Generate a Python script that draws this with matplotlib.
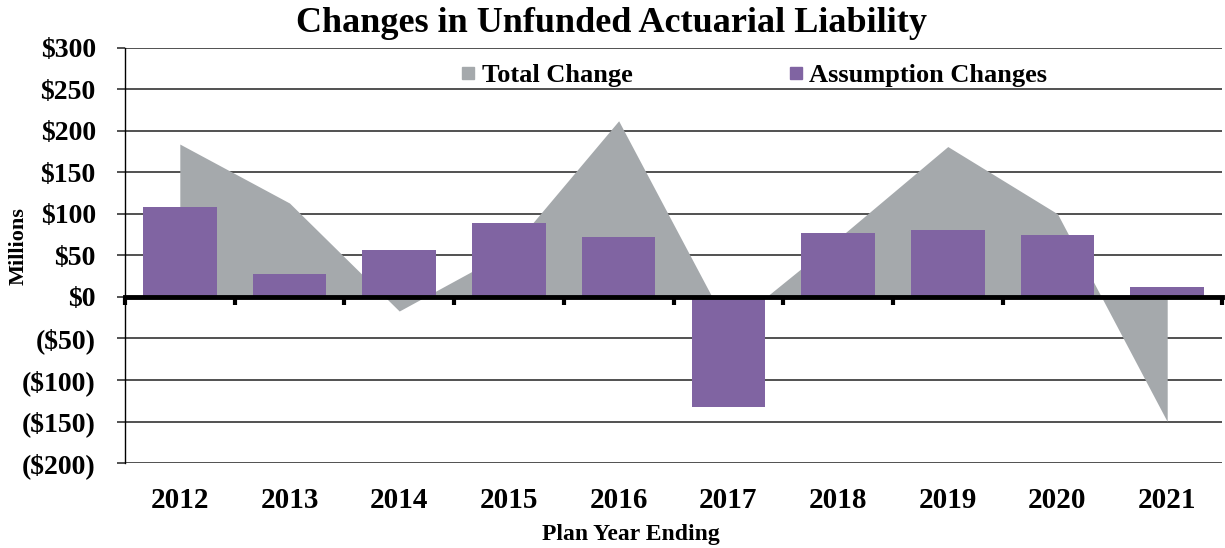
import numpy as np
import matplotlib
matplotlib.use('Agg')
import matplotlib.pyplot as plt
from matplotlib.lines import Line2D
from matplotlib.ticker import FuncFormatter, FixedLocator

# data (millions)
years = ['2012', '2013', '2014', '2015', '2016', '2017', '2018', '2019', '2020', '2021']
total_change = [184, 113, -17, 55, 212, -37, 70, 181, 100, -150]
assumption_changes = [108, 27, 57, 89, 72, -133, 77, 80, 74, 12]

gray = '#a5a9ac'
purple = '#8064a2'

plt.rcParams['font.family'] = ['Liberation Serif', 'DejaVu Serif']
plt.rcParams['font.weight'] = 'bold'


def money(v, pos):
    if v < 0:
        return '(${:.0f})'.format(-v)
    return '${:.0f}'.format(v)


fig = plt.figure(figsize=(12.25, 5.48), dpi=100)
ax = fig.add_axes([0.102, 0.155, 0.8956, 0.758])

x = np.arange(len(years))
ax.fill_between(x, total_change, 0, color=gray, lw=0, zorder=2)
ax.bar(x, assumption_changes, width=0.67, color=purple, zorder=3)

ax.set_xlim(-0.5, len(years) - 0.5)
ax.set_ylim(-200, 300)
ax.set_yticks(np.arange(-200, 301, 50))
ax.yaxis.set_major_formatter(FuncFormatter(money))
ax.grid(axis='y', color='#333333', lw=1.2)
ax.set_axisbelow(True)
ax.tick_params(axis='y', length=6, width=1.2, color='#333333', labelsize=20, pad=15)

for s in ['top', 'right']:
    ax.spines[s].set_visible(False)
ax.spines['left'].set_linewidth(1.0)
ax.spines['bottom'].set_position(('data', 0))
ax.spines['bottom'].set_linewidth(3.5)
ax.spines['bottom'].set_zorder(4)

# tick marks at category boundaries on the zero line
ax.xaxis.set_major_locator(FixedLocator(x + 0.5))
ax.xaxis.set_minor_locator(FixedLocator([-0.5]))
ax.tick_params(axis='x', which='both', length=6, width=3, direction='out', labelbottom=False)

# year labels at the bottom
sec = ax.secondary_xaxis(0)
sec.set_xticks(x)
sec.set_xticklabels(years)
sec.tick_params(length=0, labelsize=21, pad=17)
sec.spines['bottom'].set_visible(False)

fig.text(0.515, 0.024, 'Plan Year Ending', ha='center', va='center', fontsize=17, fontweight='bold')
fig.text(0.015, 0.551, 'Millions', ha='center', va='center', rotation=90, fontsize=16, fontweight='bold')
fig.text(0.499, 0.958, 'Changes in Unfunded Actuarial Liability', ha='center', va='center',
         fontsize=26, fontweight='bold')

handles = [Line2D([], [], ls='', marker='s', ms=9, color=gray, mec=gray),
           Line2D([], [], ls='', marker='s', ms=9, color=purple, mec=purple)]
ax.legend(handles, ['Total Change', 'Assumption Changes'], loc='center',
          bbox_to_anchor=(0.572, 0.934), ncol=2, frameon=False, fontsize=19,
          columnspacing=5.8, handletextpad=0.1, handlelength=0.8)

fig.savefig('out.png', dpi=100)
